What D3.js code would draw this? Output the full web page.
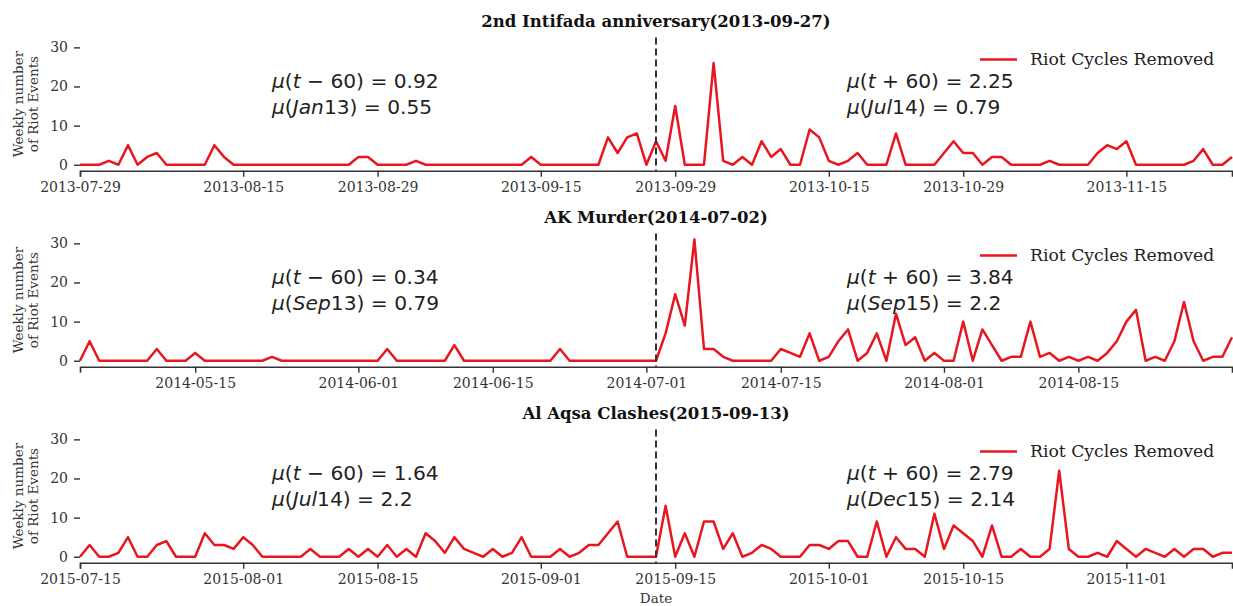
<!DOCTYPE html>
<html>
<head>
<meta charset="utf-8">
<script src="https://cdn.jsdelivr.net/npm/d3@7"></script>
<style>
  html, body { margin: 0; padding: 0; background: #fff; }
  svg { display: block; }
</style>
</head>
<body>
<svg id="chart" width="1233" height="606"></svg>
<script>
// ---------- DATA ----------
const eventTitles = ["2nd Intifada anniversary", "AK Murder", "Al Aqsa Clashes"];
const eventDates = ["2013-09-27", "2014-07-02", "2015-09-13"];

const riots1 = [0,0,0,1,0,5,0,2,3,0, 0,0,0,0,5,2,0,0,0,0, 0,0,0,0,0,0,0,0,0,2,
  2,0,0,0,0,1,0,0,0,0, 0,0,0,0,0,0,0,2,0,0, 0,0,0,0,0,7,3,7,8,0,
  6,1,15,0,0,0,26,1,0,2, 0,6,2,4,0,0,9,7,1,0, 1,3,0,0,0,8,0,0,0,0,
  3,6,3,3,0,2,2,0,0,0, 0,1,0,0,0,0,3,5,4,6, 0,0,0,0,0,0,1,4,0,0, 2];
const riots2 = [0,5,0,0,0,0,0,0,3,0, 0,0,2,0,0,0,0,0,0,0, 1,0,0,0,0,0,0,0,0,0,
  0,0,3,0,0,0,0,0,0,4, 0,0,0,0,0,0,0,0,0,0, 3,0,0,0,0,0,0,0,0,0,
  0,7,17,9,31,3,3,1,0,0, 0,0,0,3,2,1,7,0,1,5, 8,0,2,7,0,12,4,6,0,2,
  0,0,10,0,8,4,0,1,1,10, 1,2,0,1,0,1,0,2,5,10, 13,0,1,0,5,15,5,0,1,1, 6];
const riots3 = [0,3,0,0,1,5,0,0,3,4, 0,0,0,6,3,3,2,5,3,0, 0,0,0,0,2,0,0,0,2,0,
  2,0,3,0,2,0,6,4,1,5, 2,1,0,2,0,1,5,0,0,0, 2,0,1,3,3,6,9,0,0,0,
  0,13,0,6,0,9,9,2,6,0, 1,3,2,0,0,0,3,3,2,4, 4,0,0,9,0,5,2,2,0,11,
  2,8,6,4,0,8,0,0,2,0, 0,2,22,2,0,0,1,0,4,2, 0,2,1,0,2,0,2,2,0,1, 1];

const meanBefore = [0.92, 0.34, 1.64];
const refBefore = ["Jan13", "Sep13", "Jul14"];
const refBeforeMean = [0.55, 0.79, 2.2];
const meanAfter = [2.25, 3.84, 2.79];
const refAfter = ["Jul14", "Sep15", "Dec15"];
const refAfterMean = [0.79, 2.2, 2.14];

const xTicks1 = ["2013-07-29","2013-08-15","2013-08-29","2013-09-15","2013-09-29","2013-10-15","2013-10-29","2013-11-15"];
const xTicks2 = ["2014-05-15","2014-06-01","2014-06-15","2014-07-01","2014-07-15","2014-08-01","2014-08-15"];
const xTicks3 = ["2015-07-15","2015-08-01","2015-08-15","2015-09-01","2015-09-15","2015-10-01","2015-10-15","2015-11-01"];
const yTicks = [0, 10, 20, 30];
const legendLabel = "Riot Cycles Removed";

// ---------- LAYOUT ----------
const series = [riots1, riots2, riots3];
const tickSets = [xTicks1, xTicks2, xTicks3];
const svg = d3.select("#chart");
const left = 80, right = 1232;
const panelTop0 = 37.4, panelStep = 196, panelH = 133.4;
const parse = d3.utcParse("%Y-%m-%d");
const fmt = d3.utcFormat("%Y-%m-%d");
const serif = "'DejaVu Serif', serif";
const sans = "'DejaVu Sans', sans-serif";
const red = "#e8161e";
const ink = "#333";

series.forEach((vals, k) => {
  const top = panelTop0 + k * panelStep;
  const bottom = top + panelH;
  const ev = parse(eventDates[k]);
  const start = d3.utcDay.offset(ev, -60);
  const end = d3.utcDay.offset(ev, 60);
  const data = vals.map((v, i) => ({ date: d3.utcDay.offset(start, i), v }));

  const x = d3.scaleUtc().domain([start, end]).range([left, right]);
  const y = d3.scaleLinear().domain([-1.55, 32.55]).range([bottom, top]);

  const g = svg.append("g");

  // x axis
  const xAxis = g.append("g")
    .attr("transform", `translate(0,${bottom})`)
    .call(d3.axisBottom(x).tickValues(tickSets[k].map(parse)).tickFormat(fmt).tickSizeOuter(0).tickSize(6).tickPadding(5));
  xAxis.select(".domain").attr("stroke", ink).attr("stroke-width", 1.6);
  xAxis.selectAll(".tick line").attr("stroke", ink).attr("stroke-width", 1.4);
  xAxis.selectAll(".tick text").attr("font-family", serif).attr("font-size", 14).attr("fill", ink);

  // y axis (no spine)
  const yAxis = g.append("g")
    .attr("transform", `translate(${left},0)`)
    .call(d3.axisLeft(y).tickValues(yTicks).tickSize(6).tickPadding(6));
  yAxis.select(".domain").remove();
  yAxis.selectAll(".tick line").attr("stroke", ink).attr("stroke-width", 1.4);
  yAxis.selectAll(".tick text").attr("font-family", serif).attr("font-size", 14).attr("fill", ink);

  // y label
  const midY = (top + bottom) / 2;
  const yl = g.append("text")
    .attr("transform", `translate(25,${midY}) rotate(-90)`)
    .attr("text-anchor", "middle")
    .attr("font-family", serif).attr("font-size", 13.5).attr("fill", ink);
  yl.append("tspan").attr("x", 0).attr("dy", "-0.15em").text("Weekly number");
  yl.append("tspan").attr("x", 0).attr("dy", "1.08em").text("of Riot Events");

  // title
  g.append("text")
    .attr("x", (left + right) / 2).attr("y", top - 10)
    .attr("text-anchor", "middle")
    .attr("font-family", serif).attr("font-weight", "bold").attr("font-size", 16.5)
    .attr("fill", "#111")
    .text(`${eventTitles[k]}(${eventDates[k]})`);

  // line
  g.append("path").datum(data)
    .attr("fill", "none").attr("stroke", red).attr("stroke-width", 2.5)
    .attr("stroke-linejoin", "round")
    .attr("d", d3.line().x(d => x(d.date)).y(d => y(d.v)));

  // event marker
  g.append("line")
    .attr("x1", x(ev)).attr("x2", x(ev))
    .attr("y1", top).attr("y2", bottom)
    .attr("stroke", "#333").attr("stroke-width", 2).attr("stroke-dasharray", "7,4");

  // mean annotations
  function mathText(xp, yp, parts) {
    const t = g.append("text").attr("x", xp).attr("y", yp)
      .attr("font-family", sans).attr("font-size", 20.2).attr("fill", "#222")
      .attr("xml:space", "preserve");
    parts.forEach(p => {
      const s = t.append("tspan").text(p[0]);
      if (p[1]) s.attr("font-style", "italic");
    });
  }
  mathText(272, top + 51, [["μ", 1], ["(", 0], ["t", 1], [" − 60) = " + meanBefore[k], 0]]);
  mathText(272, top + 76.5, [["μ", 1], ["(", 0], [refBefore[k].replace(/\d+/, ""), 1], [refBefore[k].replace(/\D+/, "") + ") = " + refBeforeMean[k], 0]]);
  mathText(847, top + 51, [["μ", 1], ["(", 0], ["t", 1], [" + 60) = " + meanAfter[k], 0]]);
  mathText(847, top + 76.5, [["μ", 1], ["(", 0], [refAfter[k].replace(/\d+/, ""), 1], [refAfter[k].replace(/\D+/, "") + ") = " + refAfterMean[k], 0]]);

  // legend
  const ly = top + 22;
  g.append("line").attr("x1", 980).attr("x2", 1017).attr("y1", ly).attr("y2", ly)
    .attr("stroke", red).attr("stroke-width", 2.5);
  g.append("text").attr("x", 1030).attr("y", ly + 6)
    .attr("font-family", serif).attr("font-size", 17.2).attr("fill", "#222")
    .text(legendLabel);
});

// x label
svg.append("text")
  .attr("x", (left + right) / 2).attr("y", 603)
  .attr("text-anchor", "middle")
  .attr("font-family", serif).attr("font-size", 13.5).attr("fill", ink)
  .text("Date");
</script>
</body>
</html>
